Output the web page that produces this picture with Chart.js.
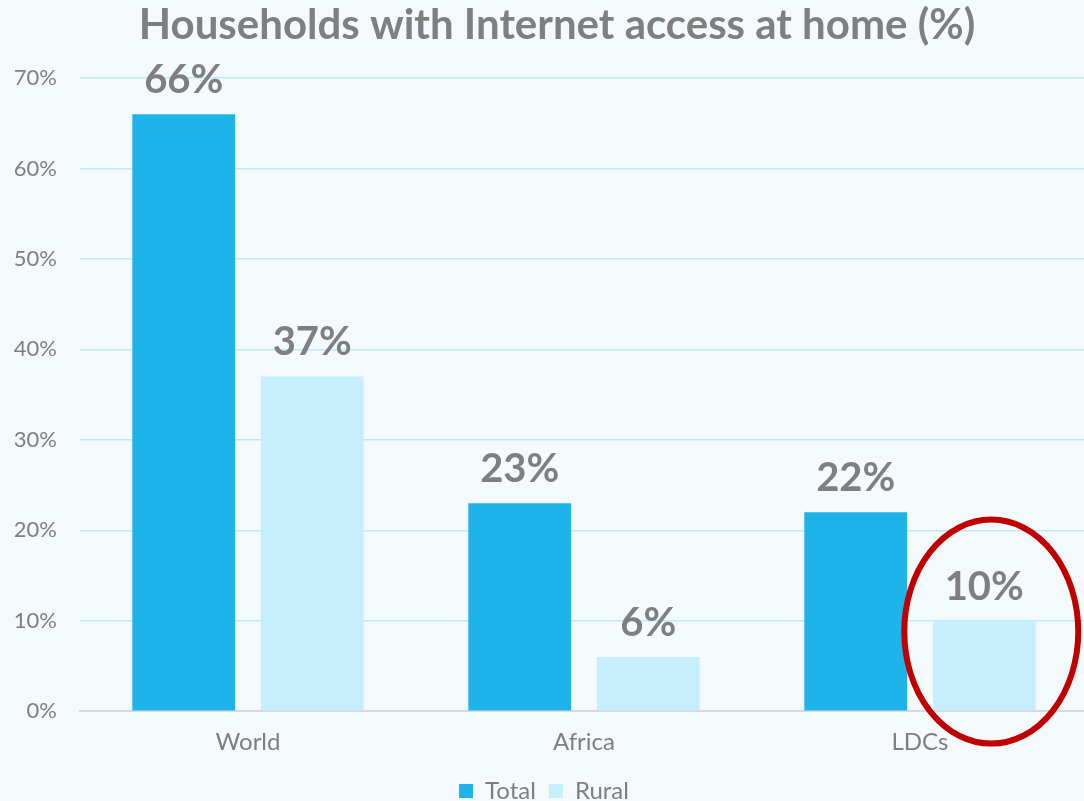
<!DOCTYPE html>
<html>
<head>
<meta charset="utf-8">
<script src="https://cdn.jsdelivr.net/npm/chart.js@4/dist/chart.umd.min.js"></script>
<style>
  html, body { margin: 0; padding: 0; background: #F4F9FC; overflow: hidden; }
  #wrap { position: relative; width: 1090px; height: 817px; }
</style>
</head>
<body>
<div id="wrap"><canvas id="myChart"></canvas></div>
<script>
// regions and internet access at home, in %
let regions = ['World', 'Africa', 'LDCs'];
let totalPct = [66, 23, 22];
let ruralPct = [37, 6, 10];
let yTicks = [0, 10, 20, 30, 40, 50, 60, 70];

let colorTotal = '#1EB4EA';
let colorRural = '#C6EEFC';
let grayText = '#7F7F7F';

// title drawn a bit right of centre, over the plot
const titlePlugin = {
  id: 'titulo',
  afterDraw(chart) {
    const ctx = chart.ctx;
    ctx.save();
    ctx.font = 'bold 42px Lato';
    ctx.fillStyle = grayText;
    ctx.textAlign = 'center';
    ctx.textBaseline = 'middle';
    ctx.fillText('Households with Internet access at home (%)', 557, 25);
    ctx.restore();
  }
};

// value labels above each bar
const valorPlugin = {
  id: 'valores',
  afterDatasetsDraw(chart) {
    const ctx = chart.ctx;
    ctx.save();
    ctx.font = 'bold 40px Lato';
    ctx.fillStyle = grayText;
    ctx.textAlign = 'center';
    ctx.textBaseline = 'middle';
    chart.data.datasets.forEach((ds, i) => {
      chart.getDatasetMeta(i).data.forEach((bar, j) => {
        ctx.fillText(ds.data[j] + '%', bar.x, bar.y - 34);
      });
    });
    ctx.restore();
  }
};

// red ring around the LDCs rural bar
const anilloPlugin = {
  id: 'anillo',
  afterDraw(chart) {
    const bar = chart.getDatasetMeta(1).data[2];
    const yScale = chart.scales.y;
    const cx = bar.x + 7;
    const cy = yScale.getPixelForValue(8.8);
    const ctx = chart.ctx;
    ctx.save();
    ctx.strokeStyle = '#C00000';
    ctx.lineWidth = 6;
    ctx.beginPath();
    ctx.ellipse(cx, cy, 87, 112, 0, 0, Math.PI * 2);
    ctx.stroke();
    ctx.restore();
  }
};

let ctx = document.getElementById('myChart').getContext('2d');
let myChart = new Chart(ctx, {
  type: 'bar',
  data: {
    labels: regions,
    datasets: [
      { label: 'Total', data: totalPct, backgroundColor: colorTotal },
      { label: 'Rural', data: ruralPct, backgroundColor: colorRural }
    ]
  },
  options: {
    responsive: true,
    maintainAspectRatio: false,
    animation: false,
    categoryPercentage: 0.765,
    barPercentage: 0.8,
    layout: { padding: { top: 78, right: 2, left: 0, bottom: 4 } },
    scales: {
      x: {
        grid: { display: false },
        border: { display: true, color: '#D9D9D9', width: 2 },
        ticks: { color: grayText, font: { family: 'Lato', size: 24 }, padding: 9 }
      },
      y: {
        min: 0,
        max: 70,
        afterBuildTicks(scale) { scale.ticks = yTicks.map(v => ({ value: v })); },
        afterFit(scale) { scale.width = 80; },
        border: { display: false },
        grid: {
          drawTicks: false,
          lineWidth: 1.5,
          color: c => c.tick.value === 0 ? 'rgba(0,0,0,0)' : '#BDE9F8'
        },
        ticks: {
          color: grayText,
          padding: 23,
          font: { family: 'Lato', size: 22 },
          callback: v => v + '%'
        }
      }
    },
    plugins: {
      legend: {
        position: 'bottom',
        labels: {
          color: grayText,
          boxWidth: 14,
          boxHeight: 14,
          padding: 13,
          font: { family: 'Lato', size: 24 }
        }
      },
      tooltip: { enabled: false }
    }
  },
  plugins: [titlePlugin, valorPlugin, anilloPlugin]
});
</script>
</body>
</html>
